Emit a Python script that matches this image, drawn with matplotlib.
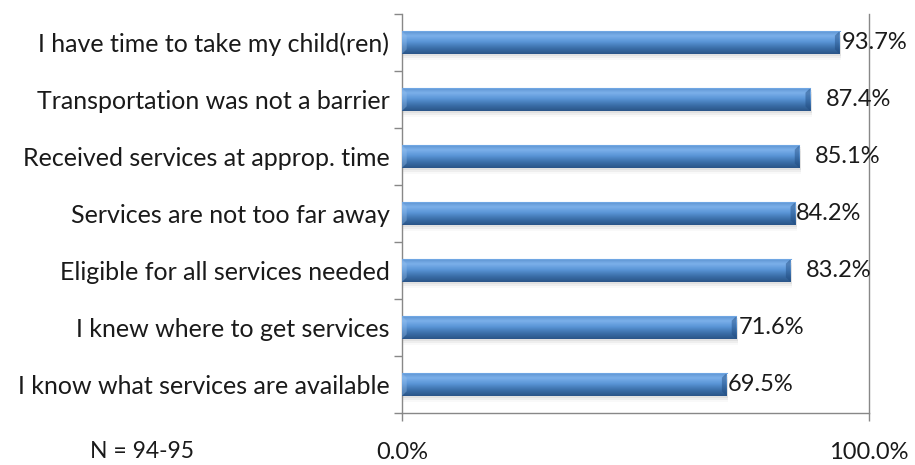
import numpy as np
import matplotlib.pyplot as plt
from matplotlib.colors import LinearSegmentedColormap
from matplotlib.patches import Rectangle
from matplotlib.transforms import offset_copy

categories = [
    "I have time to take my child(ren)",
    "Transportation was not a barrier",
    "Received services at approp. time",
    "Services are not too far away",
    "Eligible for all services needed",
    "I knew where to get services",
    "I know what services are available",
]
values = [93.7, 87.4, 85.1, 84.2, 83.2, 71.6, 69.5]
x_ticks = [0, 100]
x_tick_labels = ["0.0%", "100.0%"]

# hand-placed data labels: gap after the bar end, in points
label_gap = [1.5, 11, 11, 0.7, 11, 1.5, 0.7]

plt.rcParams["font.family"] = ["Lato", "DejaVu Sans"]

fig = plt.figure(figsize=(9.15, 4.65), dpi=100)
ax = fig.add_axes([402 / 915, 1 - 413 / 465, 467 / 915, 399 / 465])

n = len(categories)
ypos = np.arange(n)[::-1]
bar_h = 0.4

bars = ax.barh(ypos, values, height=bar_h, facecolor="none", edgecolor="none", zorder=3)

# vertical shading for the cylinder look (top row of the image = top of bar)
shade = LinearSegmentedColormap.from_list(
    "shade",
    [(0.0, "#2a5588"), (0.25, "#3a6ea8"), (0.55, "#5b96d8"), (0.8, "#7cb0ea"), (1.0, "#5e95d2")],
)
grad = np.linspace(0, 1, 64).reshape(-1, 1)

for bar in bars:
    x0, y0 = bar.get_x(), bar.get_y()
    w, h = bar.get_width(), bar.get_height()
    # soft drop shadow
    for k, a in enumerate([0.10, 0.07, 0.04]):
        ax.add_patch(Rectangle((x0 + 0.3, y0 - 0.04 - 0.03 * k), w, h, facecolor="#707070",
                               edgecolor="none", alpha=a, zorder=2))
    im = ax.imshow(grad, cmap=shade, aspect="auto", extent=(x0, x0 + w, y0, y0 + h),
                   origin="lower", zorder=3, interpolation="bicubic")
    im.set_clip_path(bar)
    # bevelled ends
    d = 1.0
    ax.fill([x0, x0 + d, x0 + d, x0], [y0, y0 + h * 0.2, y0 + h * 0.8, y0 + h],
            color="#9cc4ef", alpha=0.35, lw=0, zorder=4)
    ax.fill([x0 + w, x0 + w - d, x0 + w - d, x0 + w], [y0, y0 + h * 0.2, y0 + h * 0.8, y0 + h],
            color="#1f4a7e", alpha=0.45, lw=0, zorder=4)
    ax.plot([x0, x0 + w], [y0 + h, y0 + h], color="#6fa6e3", lw=0.8, zorder=4)

for y, v, gap in zip(ypos, values, label_gap):
    tr = offset_copy(ax.transData, fig=fig, x=gap, y=0, units="points")
    ax.text(v, y, f"{v:.1f}%", va="center", ha="left", fontsize=17, color="#1a1a1a",
            transform=tr, zorder=5)

ax.set_xlim(0, 100)
ax.set_ylim(-0.5, n - 0.5)

ax.set_yticks(np.arange(-0.5, n, 1.0))
ax.set_yticklabels([])
ax.set_yticks(ypos, categories, minor=True)
ax.tick_params(axis="y", which="major", direction="out", length=6, width=1, color="#888888")
ax.tick_params(axis="y", which="minor", length=0, pad=9, labelsize=18, labelcolor="#1a1a1a")

ax.set_xticks(x_ticks, x_tick_labels)
ax.tick_params(axis="x", direction="out", length=6, width=1, color="#888888", pad=15,
               labelsize=17, labelcolor="#1a1a1a")

for side in ["left", "bottom", "right"]:
    ax.spines[side].set_color("#888888")
    ax.spines[side].set_linewidth(1)
ax.spines["top"].set_visible(False)

fig.text(142 / 915, 1 - 451 / 465, "N = 94-95", ha="center", va="center", fontsize=16.5, color="#1a1a1a")

fig.savefig("out.png", dpi=100)
